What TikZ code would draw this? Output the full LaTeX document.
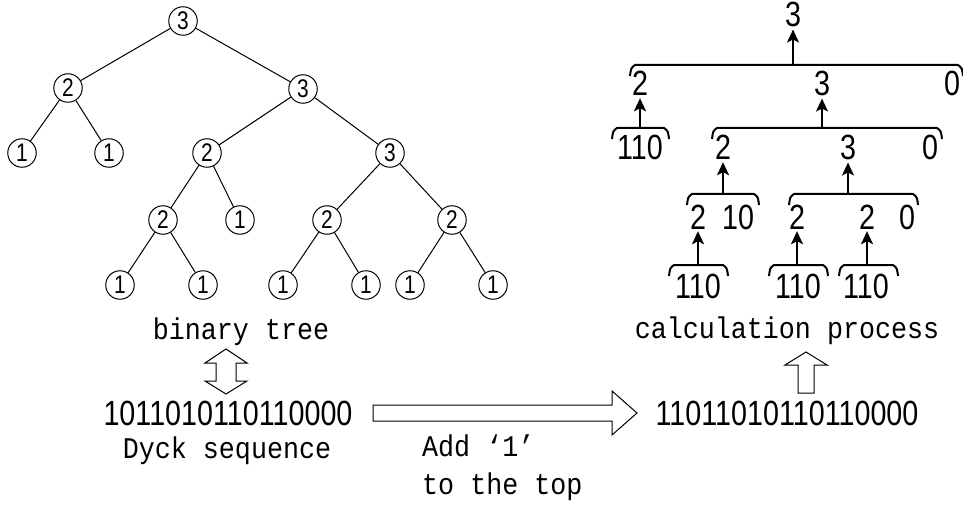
\documentclass[tikz,border=0pt]{standalone}
\usepackage{fontspec}
\newfontfamily\digf{Liberation Sans}[FakeStretch=0.82]
\newfontfamily\wordf{Liberation Mono}[FakeStretch=0.89]
\usetikzlibrary{arrows.meta}
\newcommand\mybracket[3]{%
  \draw[brk] ({#1-1},{#2+11}) .. controls ({#1},{#2+3}) .. ({#1+4},{#2}) -- ({#3-4},{#2}) .. controls ({#3},{#2+3}) .. ({#3+1},{#2+11});}
\begin{document}
\begin{tikzpicture}[x=1pt,y=-1pt,
  tn/.style={circle,draw,line width=1pt,minimum size=28.5pt,inner sep=0pt,font=\digf\fontsize{25.5}{25.5}\selectfont},
  te/.style={line width=1pt},
  num/.style={anchor=base,inner sep=2pt,font=\digf\fontsize{35}{35}\selectfont},
  word/.style={anchor=base,inner sep=0pt,font=\wordf\fontsize{30}{30}\selectfont},
  upar/.style={line width=2pt,-{Stealth[length=13pt,width=12pt,inset=3pt]}},
  brk/.style={line width=2pt},
  hollow/.style={draw,line width=1pt,fill=white,line join=miter}
]
\useasboundingbox (0,0) rectangle (963,505);
% ---------- binary tree ----------
\node[tn] (n0) at (183,21) {3};
\node[tn] (n1) at (68,88) {2};
\node[tn] (n2) at (303,89) {3};
\node[tn] (n3) at (22,153) {1};
\node[tn] (n4) at (109,153) {1};
\node[tn] (n5) at (207,153) {2};
\node[tn] (n6) at (390,153) {3};
\node[tn] (n7) at (163,220) {2};
\node[tn] (n8) at (240,220) {1};
\node[tn] (n9) at (327,220) {2};
\node[tn] (n10) at (452,220) {2};
\node[tn] (n11) at (120,285) {1};
\node[tn] (n12) at (203,285) {1};
\node[tn] (n13) at (283,285) {1};
\node[tn] (n14) at (366,285) {1};
\node[tn] (n15) at (410,285) {1};
\node[tn] (n16) at (493,285) {1};
\draw[te] (n0) -- (n1);
\draw[te] (n0) -- (n2);
\draw[te] (n1) -- (n3);
\draw[te] (n1) -- (n4);
\draw[te] (n2) -- (n5);
\draw[te] (n2) -- (n6);
\draw[te] (n5) -- (n7);
\draw[te] (n5) -- (n8);
\draw[te] (n6) -- (n9);
\draw[te] (n6) -- (n10);
\draw[te] (n7) -- (n11);
\draw[te] (n7) -- (n12);
\draw[te] (n9) -- (n13);
\draw[te] (n9) -- (n14);
\draw[te] (n10) -- (n15);
\draw[te] (n10) -- (n16);
% ---------- labels and sequences ----------
\node[word] (bt) at (241,339) {binary tree};
\node[num] (dyck1) at (228,425) {1011010110110000};
\node[word] (dl) at (227,458) {Dyck sequence};
\node[word,anchor=base west] (add) at (422,456) {Add ‘1’};
\node[word,anchor=base west] (tt) at (422,494) {to the top};
\node[num] (dyck2) at (787,425) {11011010110110000};
\node[word] (cp) at (787,338) {calculation process};
% hollow arrows
\draw[hollow] (226,349) -- (247,363) -- (236,363) -- (236,381) -- (247,381) -- (226,394) -- (205,381) -- (216,381) -- (216,363) -- (205,363) -- cycle;
\draw[hollow] (373,405) -- (612,405) -- (612,391) -- (637,413) -- (612,435) -- (612,421) -- (373,421) -- cycle;
\draw[hollow] (806,352) -- (827,365) -- (814,365) -- (814,393) -- (798,393) -- (798,365) -- (785,365) -- cycle;
% ---------- calculation process ----------
\node[num] (t3) at (793,27) {3};
\node[num] (r1a) at (640,96) {2};
\node[num] (r1b) at (822,96) {3};
\node[num] (r1c) at (952,96) {0};
\node[num] (s1) at (640,160) {110};
\node[num] (r2a) at (723,160) {2};
\node[num] (r2b) at (848,160) {3};
\node[num] (r2c) at (930,160) {0};
\node[num] (r3a) at (698,229) {2};
\node[num] (r3b) at (738,229) {10};
\node[num] (r3c) at (797,229) {2};
\node[num] (r3d) at (867,229) {2};
\node[num] (r3e) at (907,229) {0};
\node[num] (s2) at (698,298) {110};
\node[num] (s3) at (798,298) {110};
\node[num] (s4) at (866,298) {110};
\mybracket{631}{65}{962}
\mybracket{613}{128}{668}
\mybracket{713}{128}{941}
\mybracket{688}{194}{758}
\mybracket{790}{194}{917}
\mybracket{670}{265}{727}
\mybracket{770}{265}{827}
\mybracket{840}{265}{897}
\coordinate (b0) at (793,65);
\coordinate (b1) at (640,128);
\coordinate (b2) at (822,128);
\coordinate (b3) at (723,194);
\coordinate (b4) at (848,194);
\coordinate (b5) at (698,265);
\coordinate (b6) at (797,265);
\coordinate (b7) at (867,265);
\draw[upar] (b0) -- (t3.south);
\draw[upar] (b1) -- (r1a.south);
\draw[upar] (b2) -- (r1b.south);
\draw[upar] (b3) -- (r2a.south);
\draw[upar] (b4) -- (r2b.south);
\draw[upar] (b5) -- (r3a.south);
\draw[upar] (b6) -- (r3c.south);
\draw[upar] (b7) -- (r3d.south);
\end{tikzpicture}
\end{document}
